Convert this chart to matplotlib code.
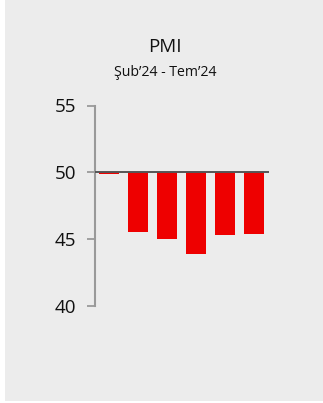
import matplotlib
matplotlib.use("Agg")
import matplotlib.pyplot as plt
from matplotlib.patches import Rectangle

months = ["Şub'24", "Mar'24", "Nis'24", "May'24", "Haz'24", "Tem'24"]
pmi = [49.9, 45.5, 45.0, 43.9, 45.3, 45.4]
baseline = 50
yticks = [40, 45, 50, 55]
title = "PMI"
subtitle = "Şub’24 - Tem’24"

W, H = 323, 403
fig = plt.figure(figsize=(W / 100, H / 100), dpi=100, facecolor="white")
fig.patches.append(Rectangle((5 / W, 2 / H), 1 - 5 / W, 1 - 2 / H,
                             transform=fig.transFigure, facecolor="#ececec",
                             edgecolor="none", zorder=-10))

left, right = 95 / W, 269 / W
top, bottom = 1 - 105.5 / H, 1 - 305.7 / H
ax = fig.add_axes([left, bottom, right - left, top - bottom])
ax.set_facecolor("none")

x = list(range(len(pmi)))
heights = [v - baseline for v in pmi]
ax.bar(x, heights, bottom=baseline, width=0.69, color="#ee0000", zorder=2)
ax.axhline(baseline, color="#555555", lw=1.4, zorder=3)

ax.set_xlim(-0.483, len(pmi) - 0.483)
ax.set_ylim(40, 55)
ax.set_yticks(yticks)
ax.set_xticks([])
for s in ["top", "right", "bottom"]:
    ax.spines[s].set_visible(False)
ax.spines["left"].set_color("#999999")
ax.spines["left"].set_linewidth(1.5)
ax.tick_params(axis="y", length=5.5, width=1.3, color="#999999", pad=8,
               labelsize=13.5, labelcolor="#111111")
for lbl in ax.get_yticklabels():
    lbl.set_fontfamily(["Open Sans", "DejaVu Sans"])

fig.text(165 / W, 1 - 47 / H, title, ha="center", va="center",
         fontsize=13.5, color="#111111", family=["Open Sans", "DejaVu Sans"])
fig.text(165 / W, 1 - 73 / H, subtitle, ha="center", va="center",
         fontsize=10.2, color="#111111", family=["Open Sans", "DejaVu Sans"])

fig.savefig("out.png", dpi=100, facecolor="white")
